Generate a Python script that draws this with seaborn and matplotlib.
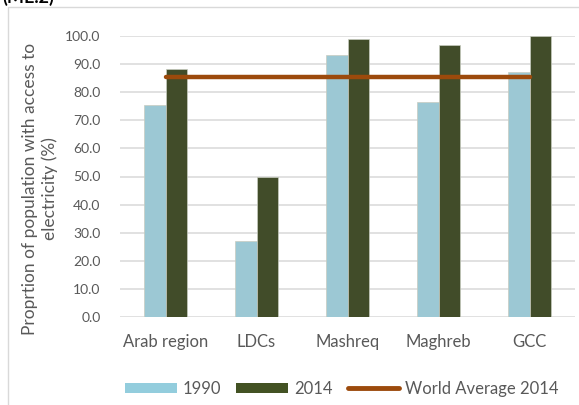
import matplotlib
matplotlib.use("Agg")
import matplotlib.pyplot as plt
import matplotlib.patches as mpatches
import matplotlib.lines as mlines
import seaborn as sns
import pandas as pd

# Access to electricity by sub-region
regions = ["Arab region", "LDCs", "Mashreq", "Maghreb", "GCC"]
access_1990 = [75.3, 26.9, 93.1, 76.4, 87.2]
access_2014 = [88.1, 49.8, 98.9, 96.7, 99.9]
world_average_2014 = 85.3
yticks = [0, 10, 20, 30, 40, 50, 60, 70, 80, 90, 100]

sns.set_theme(style="white")
plt.rcParams["font.family"] = ["Lato", "DejaVu Sans"]

df = pd.DataFrame({
    "region": regions * 2,
    "year": ["1990"] * len(regions) + ["2014"] * len(regions),
    "value": access_1990 + access_2014,
})

c1990 = "#93CDDD"
c2014 = "#435223"
cline = "#9C4A0C"
txt = "#595959"

fig = plt.figure(figsize=(5.79, 4.05), dpi=100)
ax = fig.add_axes([120 / 579, 1 - 317 / 405, 455 / 579, (317 - 36) / 405])

sns.barplot(data=df, x="region", y="value", hue="year", order=regions,
            hue_order=["1990", "2014"], palette=[c1990, c2014],
            width=0.477, gap=0, edgecolor="#C8CCC0", linewidth=0.5,
            legend=False, ax=ax, zorder=2)

xpos = list(range(len(regions)))
ax.plot(xpos, [world_average_2014] * len(regions), color=cline, lw=3.2,
        solid_capstyle="round", zorder=3)

ax.set_ylim(0, 100)
ax.set_xlim(-0.5, len(regions) - 0.5)
ax.set_yticks(yticks)
ax.set_yticklabels([f"{v:.1f}" for v in yticks], color=txt, fontsize=10)
ax.tick_params(axis="y", length=0, pad=14)
ax.tick_params(axis="x", length=0, pad=12, labelsize=12, labelcolor=txt)
ax.set_xlabel("")
ax.set_ylabel("")
for s in ax.spines.values():
    s.set_visible(False)
ax.yaxis.grid(True, color="#D9D9D9", lw=1.1, zorder=0)
ax.set_axisbelow(True)

fig.text(40 / 579, 1 - 189 / 405,
         "Proprtion of population with access to\nelectricity (%)",
         rotation=90, ha="center", va="center", fontsize=12.5, color=txt,
         linespacing=1.32)

# outer chart frame
frame = mpatches.Rectangle((8 / 579, -0.1), 1.2, 1 - 7 / 405 + 0.1,
                           transform=fig.transFigure, fill=False,
                           edgecolor="#D9D9D9", lw=1.0)
fig.add_artist(frame)
fig.text(2 / 579, 1 - 6 / 405, "(ME.2)", fontsize=13, fontweight="bold",
         color="#000000", ha="left", va="bottom")

handles = [
    mpatches.Patch(facecolor=c1990, edgecolor="none", label="1990"),
    mpatches.Patch(facecolor=c2014, edgecolor="none", label="2014"),
    mlines.Line2D([], [], color=cline, lw=3.5, solid_capstyle="round",
                  label="World Average 2014"),
]
leg = fig.legend(handles=handles, loc="center", ncol=3,
                 bbox_to_anchor=(342 / 579, 1 - 389 / 405), frameon=False,
                 fontsize=12, handlelength=3.1, handleheight=0.6,
                 handletextpad=0.36, columnspacing=0.9)
for t in leg.get_texts():
    t.set_color(txt)

fig.savefig("out.png", dpi=100)
